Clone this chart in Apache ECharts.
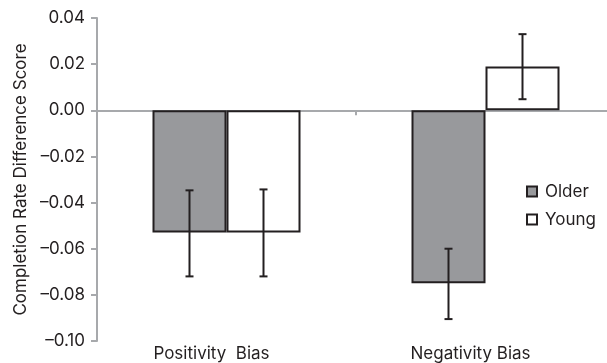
<!DOCTYPE html>
<html><head><meta charset="utf-8">
<script src="https://cdn.jsdelivr.net/npm/echarts@6/dist/echarts.min.js"></script>
<style>html,body{margin:0;padding:0;background:#fff}#c{width:607px;height:363px}</style>
</head><body><div id="c"></div>
<script>
const categories = ['Positivity  Bias', 'Negativity Bias'];
const olderValues = [-0.053, -0.075];
const youngValues = [-0.053, 0.019];
const olderErrLow = [-0.072, -0.0905];
const olderErrHigh = [-0.0347, -0.060];
const youngErrLow = [-0.072, 0.0048];
const youngErrHigh = [-0.0343, 0.033];
const yTicks = {min: -0.10, max: 0.04, interval: 0.02};

const BAR_W = 74;
const FONT = 'Inter, "Liberation Sans", Arial, sans-serif';
const FS = 17;
const TXT = '#231f20';
const chart = echarts.init(document.getElementById('c'), null, {renderer: 'canvas'});

function errSeries(low, high, side) {
  return {
    type: 'custom',
    xAxisIndex: 0,
    z: 10,
    silent: true,
    data: low.map((l, i) => [i, l, high[i]]),
    renderItem: function (params, api) {
      const i = api.value(0);
      const p1 = api.coord([i, api.value(1)]);
      const p2 = api.coord([i, api.value(2)]);
      const x = p1[0] + side * BAR_W / 2;
      const cap = 4;
      const st = {stroke: '#231f20', lineWidth: 2};
      return {
        type: 'group',
        children: [
          {type: 'line', shape: {x1: x, y1: p1[1], x2: x, y2: p2[1]}, style: st},
          {type: 'line', shape: {x1: x - cap, y1: p1[1], x2: x + cap, y2: p1[1]}, style: st},
          {type: 'line', shape: {x1: x - cap, y1: p2[1], x2: x + cap, y2: p2[1]}, style: st}
        ]
      };
    }
  };
}

chart.setOption({
  animation: false,
  textStyle: {fontFamily: FONT},
  grid: {left: 97, top: 18, width: 518, height: 323, containLabel: false, outerBoundsMode: 'none'},
  legend: {
    orient: 'vertical', left: 521, top: 178,
    itemWidth: 10, itemHeight: 10, itemGap: 11,
    icon: 'rect',
    formatter: n => '{t|' + n + '}',
    textStyle: {fontSize: FS, color: TXT, fontFamily: FONT,
      rich: {t: {fontSize: FS, color: TXT, fontFamily: FONT, padding: [0, 0, 0, 3]}}},
    data: ['Older', 'Young']
  },
  xAxis: [
    {
      type: 'category', data: categories,
      axisLine: {onZero: true, lineStyle: {color: '#a7a9ac', width: 2}},
      axisTick: {show: true, length: 5, lineStyle: {color: '#a7a9ac', width: 2}},
      axisLabel: {show: false}
    },
    {
      type: 'category', data: categories, position: 'bottom',
      axisLine: {show: false, onZero: false},
      axisTick: {show: false},
      axisLabel: {show: true, fontSize: FS, color: TXT, margin: 4, fontFamily: FONT,
        padding: [0, 30, 0, 0]}
    }
  ],
  yAxis: {
    type: 'value', min: yTicks.min, max: yTicks.max, interval: yTicks.interval,
    name: 'Completion Rate Difference Score',
    nameLocation: 'middle', nameGap: 68, nameRotate: 90,
    nameTextStyle: {fontSize: FS, color: TXT, fontFamily: FONT},
    axisLine: {show: true, lineStyle: {color: '#a7a9ac', width: 2}},
    axisTick: {show: true, length: 6, lineStyle: {color: '#a7a9ac', width: 2}},
    splitLine: {show: false},
    axisLabel: {
      fontSize: FS, color: TXT, margin: 12, fontFamily: FONT,
      formatter: v => (v < -1e-9 ? '\u2013' : '') + Math.abs(v).toFixed(2)
    }
  },
  series: [
    {
      name: 'Older', type: 'bar', xAxisIndex: 0, data: olderValues,
      barWidth: BAR_W, barGap: '0%',
      itemStyle: {color: '#98999c', borderColor: '#231f20', borderWidth: 2}
    },
    {
      name: 'Young', type: 'bar', xAxisIndex: 0, data: youngValues,
      barWidth: BAR_W, barGap: '0%',
      itemStyle: {color: '#ffffff', borderColor: '#231f20', borderWidth: 2}
    },
    errSeries(olderErrLow, olderErrHigh, -1),
    errSeries(youngErrLow, youngErrHigh, 1)
  ]
});
</script></body></html>
